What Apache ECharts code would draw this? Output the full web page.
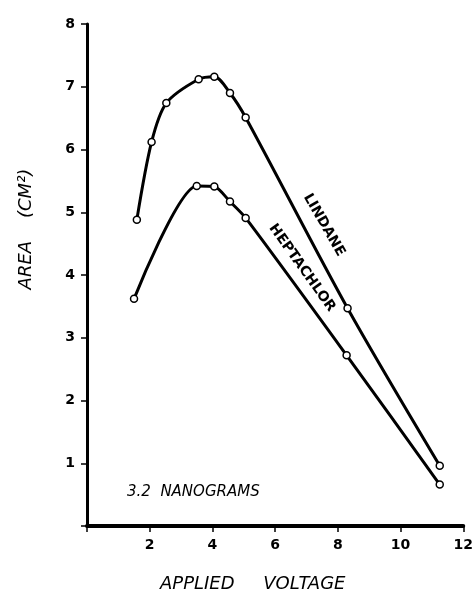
<!DOCTYPE html>
<html>
<head>
<meta charset="utf-8">
<script src="https://cdn.jsdelivr.net/npm/echarts@6/dist/echarts.min.js"></script>
<style>
  html, body { margin: 0; padding: 0; background: #fff; }
  #chart { width: 476px; height: 597px; }
</style>
</head>
<body>
<div id="chart"></div>
<script>
// applied voltage vs. peak area, 3.2 ng
const lindaneVolts = [1.59, 2.06, 2.53, 3.56, 4.06, 4.56, 5.06, 8.31, 11.25];
const lindaneArea = [4.88, 6.12, 6.74, 7.12, 7.16, 6.9, 6.51, 3.47, 0.96];
const heptaVolts = [1.5, 3.5, 4.06, 4.56, 5.06, 8.28, 11.25];
const heptaArea = [3.62, 5.42, 5.41, 5.17, 4.91, 2.72, 0.66];
const xTicks = [2, 4, 6, 8, 10, 12];

const pairs = (xs, ys) => xs.map((x, i) => [x, ys[i]]);

const chart = echarts.init(document.getElementById('chart'));

const lineStyle = { color: '#000', width: 3 };
const markerStyle = { color: '#fff', borderColor: '#000', borderWidth: 1.5 };

chart.setOption({
  animation: false,
  backgroundColor: '#fff',
  grid: { left: 87, right: 7, top: 24, bottom: 71 },
  xAxis: {
    type: 'value',
    min: 0,
    max: 12,
    interval: 2,
    axisLine: { lineStyle: { color: '#000', width: 4 } },
    axisTick: { length: 6, lineStyle: { color: '#000', width: 1.5 } },
    axisLabel: {
      color: '#000', fontFamily: 'DejaVu Sans', fontWeight: 'bold', fontSize: 14, margin: 12,
      formatter: v => (xTicks.includes(v) ? String(v) : '')
    },
    splitLine: { show: false }
  },
  yAxis: {
    type: 'value',
    min: 0,
    max: 8,
    interval: 1,
    axisLine: { show: true, lineStyle: { color: '#000', width: 3 } },
    axisTick: { show: true, length: 6, lineStyle: { color: '#000', width: 1.5 } },
    axisLabel: {
      color: '#000', fontFamily: 'DejaVu Sans', fontWeight: 'bold', fontSize: 14, margin: 12,
      formatter: v => (v === 0 ? '' : String(v))
    },
    splitLine: { show: false }
  },
  series: [
    {
      name: 'LINDANE',
      type: 'line',
      smooth: 0.3,
      data: pairs(lindaneVolts, lindaneArea),
      symbol: 'circle',
      symbolSize: 7,
      lineStyle: lineStyle,
      itemStyle: markerStyle
    },
    {
      name: 'HEPTACHLOR',
      type: 'line',
      smooth: 0.25,
      data: pairs(heptaVolts, heptaArea),
      symbol: 'circle',
      symbolSize: 7,
      lineStyle: lineStyle,
      itemStyle: markerStyle
    }
  ],
  graphic: [
    {
      type: 'text', x: 324, y: 225, rotation: -1.05,
      style: { text: 'LINDANE', fill: '#000', font: 'bold 14px "DejaVu Sans"', align: 'center', verticalAlign: 'middle' }
    },
    {
      type: 'text', x: 302, y: 268, rotation: -0.95,
      style: { text: 'HEPTACHLOR', fill: '#000', font: 'bold 14px "DejaVu Sans"', align: 'center', verticalAlign: 'middle' }
    },
    {
      type: 'text', x: 127, y: 492,
      style: { text: '3.2  NANOGRAMS', fill: '#000', font: 'italic 15px "DejaVu Sans"', verticalAlign: 'middle' }
    },
    {
      type: 'text', x: 26, y: 229, rotation: Math.PI / 2,
      style: { text: 'AREA    (CM²)', fill: '#000', font: 'italic 18px "DejaVu Sans"', align: 'center', verticalAlign: 'middle' }
    },
    {
      type: 'text', x: 160, y: 584,
      style: { text: 'APPLIED     VOLTAGE', fill: '#000', font: 'italic 18px "DejaVu Sans"', verticalAlign: 'middle' }
    }
  ]
});
</script>
</body>
</html>
